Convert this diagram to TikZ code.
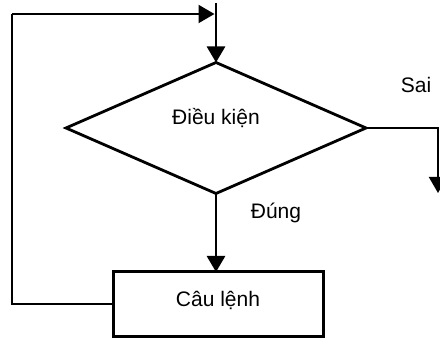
\documentclass[tikz,border=0pt]{standalone}
\usepackage{fontspec}
\setmainfont{Liberation Sans}
\usetikzlibrary{arrows.meta,shapes.geometric}
\tikzset{
    flow/.style={line width=1.4pt,-{Triangle[length=8pt,width=9pt]}},
    loopline/.style={line width=1pt},
    decision/.style={diamond,draw,line width=1.4pt,inner sep=0pt,outer sep=0pt,
        minimum width=150pt,minimum height=65.5pt,text height=7.5pt,text depth=11pt},
    process/.style={rectangle,draw,line width=1.5pt,inner sep=0pt,outer sep=0pt,
        minimum width=105pt,minimum height=32.5pt,text height=7.5pt,text depth=5.5pt},
    tag/.style={inner sep=0pt}
}
\begin{document}
\begin{tikzpicture}[x=0.5pt,y=-0.5pt,font=\fontsize{10.5}{12}\selectfont]
    \useasboundingbox (0,0) rectangle (440,340);    % Freeze the bounding box
    % --- --- --- Nodes
    \node[decision] (cond) at (216,128) {Điều kiện};
    \node[process] (stmt) at (218,304.5) {Câu lệnh};
    \node[tag] (sai) at (416,85) {Sai};
    \node[tag] (dung) at (276,213) {Đúng};
    % --- --- --- Corners
    \coordinate (start) at (216,3);
    \coordinate (entry) at (214.5,14);
    \coordinate (loopcorner) at (12,14);
    \coordinate (exit) at (438,193);
    % --- --- --- Connectors
    \draw[flow] (start) -- (cond.north);
    \draw[flow] (cond.south) -- (cond.south |- stmt.north);
    \draw[loopline] (stmt.west) -| (loopcorner);
    \draw[loopline,-{Triangle[length=8pt,width=9pt]}] (loopcorner) -- (entry);
    \draw[loopline,-{Triangle[length=8pt,width=9pt]}] (cond.east) -| (exit);
\end{tikzpicture}
\end{document}
